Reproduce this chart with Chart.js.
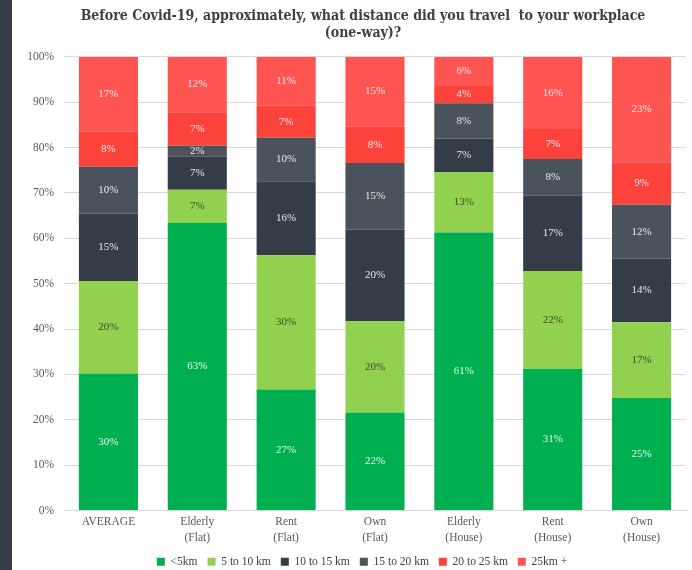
<!DOCTYPE html>
<html>
<head>
<meta charset="utf-8">
<script src="https://cdn.jsdelivr.net/npm/chart.js@4"></script>
<style>
  html, body { margin: 0; padding: 0; background: #ffffff; }
  #wrap { position: relative; width: 692px; height: 570px; overflow: hidden; }
  #strip { position: absolute; left: 0; top: 0; width: 12px; height: 570px; background: #353c46; }
  #box { position: absolute; left: 12px; top: 0; width: 680px; height: 570px; }
</style>
</head>
<body>
<div id="wrap">
  <div id="strip"></div>
  <div id="box"><canvas id="distanceChart"></canvas></div>
</div>
<script>
// categories and share of respondents (%) per distance band
const groups = [['AVERAGE'], ['Elderly', '(Flat)'], ['Rent', '(Flat)'], ['Own', '(Flat)'],
                ['Elderly', '(House)'], ['Rent', '(House)'], ['Own', '(House)']];
const bands = ['<5km', '5 to 10 km', '10 to 15 km', '15 to 20 km', '20 to 25 km', '25km +'];

const under5     = [30.2, 63.4, 26.7, 21.6, 61.3, 31.2, 24.8];
const from5to10  = [20.4, 7.3, 29.6, 20.1, 13.3, 21.6, 16.7];
const from10to15 = [14.9, 7.3, 16.3, 20.2, 7.4, 16.6, 14.0];
const from15to20 = [10.3, 2.4, 9.6, 14.7, 7.8, 8.1, 11.9];
const from20to25 = [7.7, 7.4, 7.0, 8.1, 3.8, 6.6, 9.4];
const over25     = [16.5, 12.2, 10.8, 15.3, 6.4, 15.9, 23.2];
const yTicks = [0, 10, 20, 30, 40, 50, 60, 70, 80, 90, 100];

const bandValues = [under5, from5to10, from10to15, from15to20, from20to25, over25];
const bandColors = ['#00b050', '#92d050', '#343c47', '#4a525b', '#fb433b', '#fe5552'];
const labelColors = ['#e8f7ee', '#3c4a2a', '#e6e8ea', '#e6e8ea', '#ffe9e7', '#ffe9e7'];

const serif = "'Liberation Serif', 'DejaVu Serif', serif";

// write the rounded percentage in the middle of each segment
const segmentLabels = {
  id: 'segmentLabels',
  afterDatasetsDraw(chart) {
    const ctx = chart.ctx;
    ctx.save();
    ctx.font = '11px ' + serif;
    ctx.textAlign = 'center';
    ctx.textBaseline = 'middle';
    chart.data.datasets.forEach((ds, i) => {
      const meta = chart.getDatasetMeta(i);
      meta.data.forEach((bar, j) => {
        ctx.fillStyle = labelColors[i];
        ctx.fillText(Math.round(ds.data[j]) + '%', bar.x, (bar.y + bar.base) / 2);
      });
    });
    ctx.restore();
  }
};

// nudge title and legend: title/legend sit a little right of the plot centre,
// legend a bit higher than the layout would put it
const centreShift = {
  id: 'centreShift',
  afterLayout(chart) {
    chart.titleBlock.left += 12;
    chart.titleBlock.right += 12;
    chart.legend.left += 11;
    chart.legend.right += 11;
    chart.legend.top -= 3.5;
    chart.legend.bottom -= 3.5;
  }
};

const ctx = document.getElementById('distanceChart').getContext('2d');
const distanceChart = new Chart(ctx, {
  type: 'bar',
  data: {
    labels: groups,
    datasets: bands.map((b, i) => ({
      label: b,
      data: bandValues[i],
      backgroundColor: bandColors[i],
      borderWidth: 0,
      categoryPercentage: 1,
      barPercentage: 0.665
    }))
  },
  options: {
    responsive: true,
    maintainAspectRatio: false,
    animation: false,
    layout: { padding: { left: 4, right: 6, top: 0, bottom: -11 } },
    plugins: {
      title: {
        display: true,
        text: ['Before Covid-19, approximately, what distance did you travel  to your workplace', '(one-way)?'],
        color: '#404040',
        font: { family: "'DejaVu Serif Condensed', 'DejaVu Serif', serif", size: 14, weight: 'bold', lineHeight: 1.21 },
        padding: { top: 8, bottom: 15 }
      },
      legend: {
        position: 'bottom',
        labels: {
          boxWidth: 8,
          boxHeight: 8,
          padding: 10,
          color: '#404040',
          font: { family: serif, size: 11.5 }
        }
      },
      tooltip: { enabled: false }
    },
    scales: {
      x: {
        stacked: true,
        grid: { display: false, drawTicks: false },
        border: { color: '#d9d9d9' },
        ticks: { color: '#595959', font: { family: serif, size: 11.5, lineHeight: 1.39 }, padding: 3.5 }
      },
      y: {
        stacked: true,
        min: 0,
        max: 100,
        afterBuildTicks(scale) {
          scale.ticks = yTicks.map(v => ({ value: v }));
        },
        afterFit(scale) { scale.width = 48; },
        grid: { color: '#d9d9d9', drawTicks: false },
        border: { display: false },
        ticks: {
          color: '#595959',
          padding: 10,
          font: { family: serif, size: 11.5 },
          callback: v => v + '%'
        }
      }
    }
  },
  plugins: [segmentLabels, centreShift]
});
</script>
</body>
</html>
